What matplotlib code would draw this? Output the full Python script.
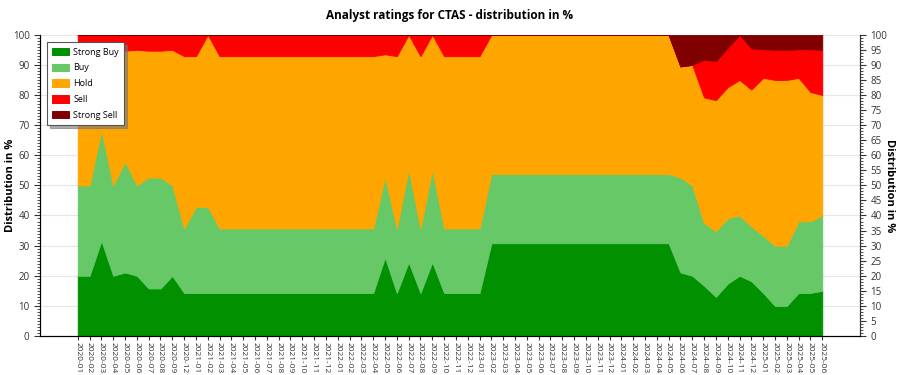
import numpy as np
import matplotlib
matplotlib.use("Agg")
import matplotlib.pyplot as plt
from matplotlib.ticker import MultipleLocator

plt.rcParams['font.family'] = ['Open Sans', 'DejaVu Sans']

months = [
    "2020-01", "2020-02", "2020-03", "2020-04", "2020-05", "2020-06", "2020-07", "2020-08",
    "2020-09", "2020-12", "2021-01", "2021-02", "2021-03", "2021-04", "2021-05", "2021-06",
    "2021-07", "2021-08", "2021-09", "2021-10", "2021-11", "2021-12", "2022-01", "2022-02",
    "2022-03", "2022-04", "2022-05", "2022-06", "2022-07", "2022-08", "2022-09", "2022-10",
    "2022-11", "2022-12", "2023-01", "2023-02", "2023-03", "2023-04", "2023-05", "2023-06",
    "2023-07", "2023-08", "2023-09", "2023-10", "2023-11", "2023-12", "2024-01", "2024-02",
    "2024-03", "2024-04", "2024-05", "2024-06", "2024-07", "2024-08", "2024-09", "2024-10",
    "2024-11", "2024-12", "2025-01", "2025-02", "2025-03", "2025-04", "2025-05", "2025-06",
]

# percentages per rating
strong_buy = [
    20, 20, 31.6, 20, 21.1, 20, 15.8, 15.8,
    20, 14.3, 14.3, 14.3, 14.3, 14.3, 14.3, 14.3,
    14.3, 14.3, 14.3, 14.3, 14.3, 14.3, 14.3, 14.3,
    14.3, 14.3, 26.1, 14.3, 24.5, 14.3, 24.5, 14.3,
    14.3, 14.3, 14.3, 30.8, 30.8, 30.8, 30.8, 30.8,
    30.8, 30.8, 30.8, 30.8, 30.8, 30.8, 30.8, 30.8,
    30.8, 30.8, 30.8, 21.1, 20, 16.7, 13.0, 17.4,
    20, 18.2, 14.3, 10, 10, 14.3, 14.3, 15,
]
buy = [
    30, 30, 36.8, 30, 36.8, 30, 36.8, 36.8,
    30, 21.4, 28.6, 28.6, 21.4, 21.4, 21.4, 21.4,
    21.4, 21.4, 21.4, 21.4, 21.4, 21.4, 21.4, 21.4,
    21.4, 21.4, 26.8, 21.4, 30.9, 21.4, 30.9, 21.4,
    21.4, 21.4, 21.4, 23.0, 23.0, 23.0, 23.0, 23.0,
    23.0, 23.0, 23.0, 23.0, 23.0, 23.0, 23.0, 23.0,
    23.0, 23.0, 23.0, 31.5, 30, 20.8, 21.8, 21.7,
    20, 18.2, 19.0, 20, 20, 23.8, 23.8, 25,
]
hold = [
    45, 45, 26.3, 45, 36.8, 45, 42.1, 42.1,
    45, 57.2, 50.0, 57.1, 57.2, 57.2, 57.2, 57.2,
    57.2, 57.2, 57.2, 57.2, 57.2, 57.2, 57.2, 57.2,
    57.2, 57.2, 40.6, 57.2, 44.6, 57.2, 44.6, 57.2,
    57.2, 57.2, 57.2, 46.2, 46.2, 46.2, 46.2, 46.2,
    46.2, 46.2, 46.2, 46.2, 46.2, 46.2, 46.2, 46.2,
    46.2, 46.2, 46.2, 36.9, 40, 41.7, 43.5, 43.5,
    45, 45.4, 52.4, 55, 55, 47.6, 42.9, 40,
]
sell = [
    5, 5, 5.3, 5, 5.3, 5, 5.3, 5.3,
    5, 7.1, 7.1, 0, 7.1, 7.1, 7.1, 7.1,
    7.1, 7.1, 7.1, 7.1, 7.1, 7.1, 7.1, 7.1,
    7.1, 7.1, 6.5, 7.1, 0, 7.1, 0, 7.1,
    7.1, 7.1, 7.1, 0, 0, 0, 0, 0,
    0, 0, 0, 0, 0, 0, 0, 0,
    0, 0, 0, 0, 0, 12.5, 13.0, 13.1,
    15, 13.7, 9.5, 10, 10, 9.5, 14.2, 15,
]
strong_sell = [
    0, 0, 0, 0, 0, 0, 0, 0,
    0, 0, 0, 0, 0, 0, 0, 0,
    0, 0, 0, 0, 0, 0, 0, 0,
    0, 0, 0, 0, 0, 0, 0, 0,
    0, 0, 0, 0, 0, 0, 0, 0,
    0, 0, 0, 0, 0, 0, 0, 0,
    0, 0, 0, 10.5, 10, 8.3, 8.7, 4.3,
    0, 4.5, 4.8, 5, 5, 4.8, 4.8, 5,
]

labels = ["Strong Buy", "Buy", "Hold", "Sell", "Strong Sell"]
colors = ["#009000", "#66c866", "#ffa500", "#ff0000", "#800000"]

fig = plt.figure(figsize=(9, 3.75), dpi=100)
ax = fig.add_axes([0.0444, 0.104, 0.9112, 0.8035])

x = np.arange(len(months))
polys = ax.stackplot(x, strong_buy, buy, hold, sell, strong_sell,
                     labels=labels, colors=colors, linewidth=0.7, zorder=2)
for p, c in zip(polys, colors):
    p.set_edgecolor(c)

ax.set_xlim(-3.2, len(months) - 1 + 3.2)
ax.set_ylim(0, 100)
ax.set_xticks(x)
ax.set_xticklabels(months, rotation=270, fontsize=6, color="#333333")
ax.yaxis.set_major_locator(MultipleLocator(10))
ax.yaxis.set_minor_locator(MultipleLocator(1))
ax.tick_params(axis="y", which="major", length=4, labelsize=7, colors="#333333")
ax.tick_params(axis="y", which="minor", length=2, color="#333333")
ax.tick_params(axis="x", length=3, pad=1, color="#333333")
ax.grid(axis="y", color="#e6e6e6", linewidth=0.8, zorder=0)
ax.set_axisbelow(True)
ax.spines["top"].set_visible(False)
for s in ["left", "bottom", "right"]:
    ax.spines[s].set_color("#333333")
ax.set_ylabel("Distribution in %", fontsize=8, fontweight="bold", va="center")
ax.yaxis.set_label_coords(-0.036, 0.5)

ax2 = ax.twinx()
ax2.set_ylim(0, 100)
ax2.yaxis.set_major_locator(MultipleLocator(5))
ax2.yaxis.set_minor_locator(MultipleLocator(1))
ax2.tick_params(axis="y", which="major", length=4, labelsize=7, colors="#333333")
ax2.tick_params(axis="y", which="minor", length=2, color="#333333")
ax2.spines["top"].set_visible(False)
ax2.spines["right"].set_color("#333333")
ax2.set_ylabel("Distribution in %", fontsize=8, fontweight="bold",
               rotation=270, va="center")
ax2.yaxis.set_label_coords(1.036, 0.5)

leg = ax.legend(loc="upper left", bbox_to_anchor=(0.003, 0.99), fontsize=6.5,
                fancybox=False, shadow={"color": "#777777", "alpha": 0.6},
                framealpha=1, edgecolor="#555555",
                handlelength=1.8, handleheight=0.9, labelspacing=0.75,
                borderpad=0.6, handletextpad=0.5)
leg.get_frame().set_linewidth(0.8)

fig.suptitle("Analyst ratings for CTAS - distribution in %", fontsize=8.5,
             fontweight="bold", y=0.975)

fig.savefig("out.png", dpi=100)
